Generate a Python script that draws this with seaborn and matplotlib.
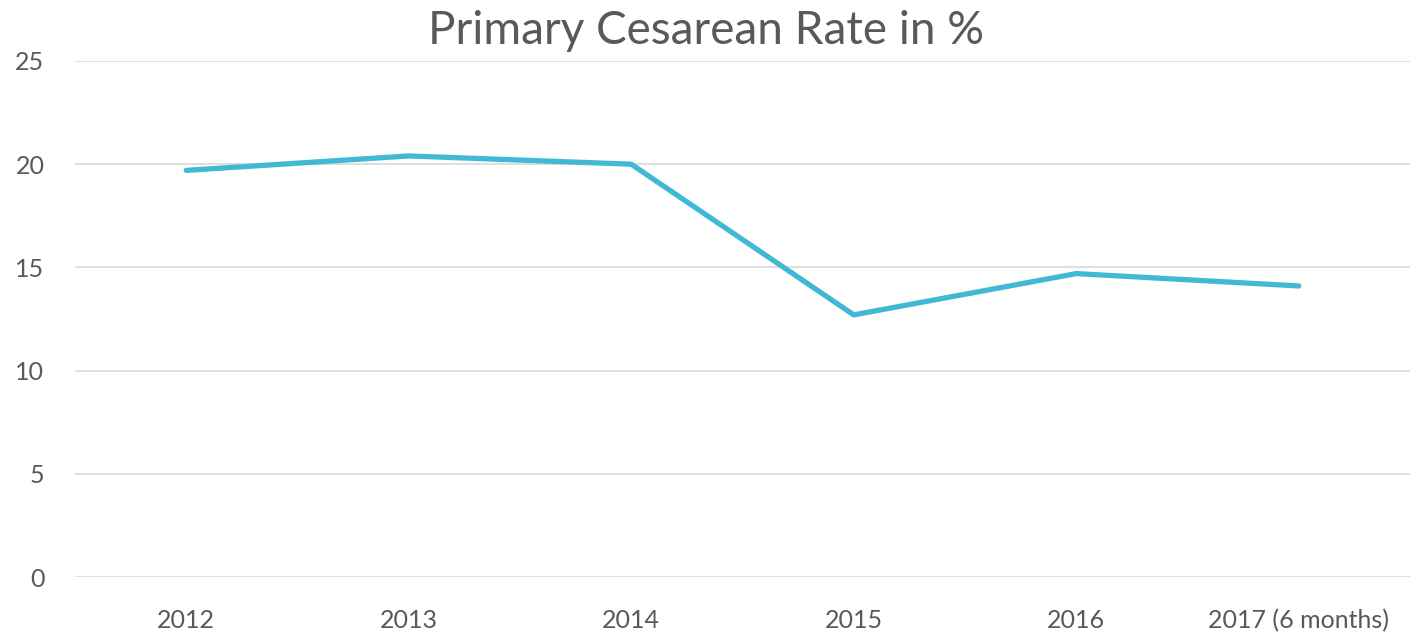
import pandas as pd
import seaborn as sns
import matplotlib
import matplotlib.pyplot as plt

matplotlib.use("Agg")

# Données
years = ["2012", "2013", "2014", "2015", "2016", "2017 (6 months)"]
rates = [19.7, 20.4, 20.0, 12.7, 14.7, 14.1]

df = pd.DataFrame({"year": years, "rate": rates})

sns.set_style("white")
plt.rcParams["font.family"] = ["Lato", "DejaVu Sans"]

fig = plt.figure(figsize=(14.12, 6.38), dpi=100)
ax = fig.add_axes([0.0531, 0.0956, 0.9455, 0.8088])

sns.lineplot(data=df, x="year", y="rate", ax=ax, color="#41B8D4",
             linewidth=3.8, sort=False, solid_capstyle="round")

ax.set_xlim(-0.5, 5.5)
ax.set_ylim(0, 25)
ax.set_yticks([0, 5, 10, 15, 20, 25])
ax.grid(axis="y", color="#d9d9d9", linewidth=1.2)
ax.set_axisbelow(True)
for s in ax.spines.values():
    s.set_visible(False)

ax.tick_params(axis="both", length=0, labelsize=18, labelcolor="#595959")
ax.tick_params(axis="y", pad=22)
ax.tick_params(axis="x", pad=23)

ax.set_xlabel("")
ax.set_ylabel("")
fig.suptitle("Primary Cesarean Rate in %", fontsize=33, color="#595959", y=0.985)

plt.savefig("out.png", dpi=100)
